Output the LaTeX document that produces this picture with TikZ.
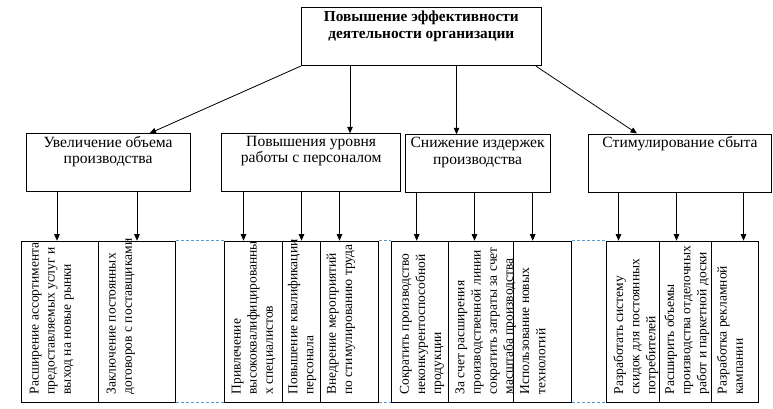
\documentclass[tikz,border=0pt]{standalone}
\usepackage{fontspec}
\setmainfont{Liberation Serif}
\usetikzlibrary{arrows.meta,calc}
\definecolor{dashblue}{RGB}{91,155,213}
\begin{document}
\begin{tikzpicture}[x=1pt,y=-1pt,
  box/.style={draw, line width=1.1pt, inner sep=0pt, anchor=north west},
  lbl/.style={anchor=north, align=center, inner sep=0pt, font=\fontsize{15.6}{16.7}\selectfont},
  toplbl/.style={anchor=north, align=center, inner sep=0pt, font=\fontsize{15.3}{16.6}\selectfont\bfseries},
  vlbl/.style={rotate=90, anchor=north west, align=left, inner sep=0pt, font=\fontsize{13.5}{16.2}\selectfont},
  arr/.style={line width=0.8pt, -{Triangle[length=6.5pt,width=5.5pt]}},
  dline/.style={draw=dashblue, line width=0.8pt, dash pattern=on 3pt off 2pt}]
\useasboundingbox (0,0) rectangle (773,408);

% top
\node[box, minimum width=240pt, minimum height=57.7pt] (top) at (300.8,7.3) {};
\node[toplbl] (toptext) at ([yshift=-3.5pt]top.north) {Повышение эффективности\\деятельности организации};

% level 2
\node[box, minimum width=164.2pt, minimum height=57.2pt] (b1) at (25.5,133.3) {};
\node[box, minimum width=178.7pt, minimum height=57.7pt] (b2) at (221.3,133.3) {};
\node[box, minimum width=145pt, minimum height=57.7pt] (b3) at (404.5,134.3) {};
\node[box, minimum width=183pt, minimum height=58pt] (b4) at (588,133.5) {};
\node[lbl] (b1t) at ([yshift=-2.5pt]b1.north) {Увеличение объема\\производства};
\node[lbl] (b2t) at ([yshift=-2.5pt]b2.north) {Повышения уровня\\работы с персоналом};
\node[lbl] (b3t) at ([yshift=-2.5pt]b3.north) {Снижение издержек\\производства};
\node[lbl] (b4t) at ([yshift=-2.5pt]b4.north) {Стимулирование сбыта};

% top arrows
\draw[arr] (top.south west) -- ([xshift=41.4pt]b1.north);
\draw[arr] ([xshift=49.2pt]top.south west) coordinate (a2) -- (a2 |- b2.north);
\draw[arr] ([xshift=155.7pt]top.south west) coordinate (a3) -- (a3 |- b3.north);
\draw[arr] ([xshift=-6pt]top.south east) -- ([xshift=49pt]b4.north west);

% bottom columns
\node[box, minimum width=77pt, minimum height=160.8pt] (c1) at (21,240.7) {};
\node[box, minimum width=77pt, minimum height=160.8pt] (c2) at (98,240.7) {};
\node[box, minimum width=57.4pt, minimum height=160.8pt] (c3) at (224.3,240.7) {};
\node[box, minimum width=38.3pt, minimum height=160.8pt] (c4) at (281.7,240.7) {};
\node[box, minimum width=58pt, minimum height=160.8pt] (c5) at (320,240.7) {};
\node[box, minimum width=57pt, minimum height=160.8pt] (c6) at (390.7,240.7) {};
\node[box, minimum width=65pt, minimum height=160.8pt] (c7) at (447.7,240.7) {};
\node[box, minimum width=58pt, minimum height=160.8pt] (c8) at (512.7,240.7) {};
\node[box, minimum width=52.7pt, minimum height=160.8pt] (c9) at (606,240.7) {};
\node[box, minimum width=52pt, minimum height=160.8pt] (c10) at (658.7,240.7) {};
\node[box, minimum width=47.6pt, minimum height=160.8pt] (c11) at (710.7,240.7) {};

% dashed connectors between column groups
\draw[dline] (c2.north east) -- (c3.north west);
\draw[dline] (c2.south east) -- (c3.south west);
\draw[dline] (c5.north east) -- (c6.north west);
\draw[dline] (c5.south east) -- (c6.south west);
\draw[dline] (c8.north east) -- (c9.north west);
\draw[dline] (c8.south east) -- (c9.south west);

% arrows to columns
\draw[arr] ([xshift=31.5pt]b1.south west) coordinate (d1) -- (d1 |- c1.north);
\draw[arr] ([xshift=111.5pt]b1.south west) coordinate (d2) -- (d2 |- c2.north);
\draw[arr] ([xshift=22.2pt]b2.south west) coordinate (d3) -- (d3 |- c3.north);
\draw[arr] ([xshift=80.2pt]b2.south west) coordinate (d4) -- (d4 |- c4.north);
\draw[arr] ([xshift=118.2pt]b2.south west) coordinate (d5) -- (d5 |- c5.north);
\draw[arr] ([xshift=12.2pt]b3.south west) coordinate (d6) -- (d6 |- c6.north);
\draw[arr] ([xshift=70pt]b3.south west) coordinate (d7) -- (d7 |- c7.north);
\draw[arr] ([xshift=128.2pt]b3.south west) coordinate (d8) -- (d8 |- c8.north);
\draw[arr] ([xshift=30.5pt]b4.south west) coordinate (d9) -- (d9 |- c9.north);
\draw[arr] ([xshift=88.5pt]b4.south west) coordinate (d10) -- (d10 |- c10.north);
\draw[arr] ([xshift=155.5pt]b4.south west) coordinate (d11) -- (d11 |- c11.north);

% vertical texts
\node[vlbl] (t1) at ($(c1.south west)+(8.5,-8)$) {Расширение ассортимента\\предоставляемых услуг и\\выход на новые рынки};
\node[vlbl] (t2) at ($(c2.south west)+(8.5,-8)$) {Заключение постоянных\\договоров с поставщиками};
\node[vlbl] (t3) at ($(c3.south west)+(7.2,-8)$) {Привлечение\\высококвалифицированны\\х специалистов};
\node[vlbl] (t4) at ($(c4.south west)+(6,-8)$) {Повышение квалификации\\персонала};
\node[vlbl] (t5) at ($(c5.south west)+(6.5,-8)$) {Внедрение мероприятий\\по стимулированию труда};
\node[vlbl] (t6) at ($(c6.south west)+(9,-8)$) {Сократить производство\\неконкурентоспособной\\продукции};
\node[vlbl] (t7) at ($(c7.south west)+(7.5,-8)$) {За счет расширения\\производственной линии\\сократить затраты за счет\\масштаба производства};
\node[vlbl] (t8) at ($(c8.south west)+(7.5,-8)$) {Использование новых\\технологий};
\node[vlbl] (t9) at ($(c9.south west)+(7.2,-8)$) {Разработать систему\\скидок для постоянных\\потребителей};
\node[vlbl] (t10) at ($(c10.south west)+(5.5,-8)$) {Расширить объемы\\производства отделочных\\работ и паркетной доски};
\node[vlbl] (t11) at ($(c11.south west)+(6,-8)$) {Разработка рекламной\\кампании};
\end{tikzpicture}
\end{document}
